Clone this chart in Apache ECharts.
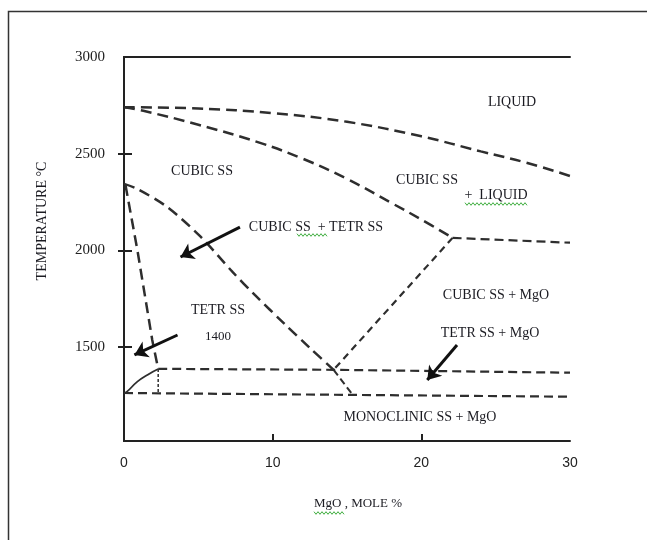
<!DOCTYPE html>
<html>
<head>
<meta charset="utf-8">
<title>ZrO2 - MgO phase diagram</title>
<script src="https://cdn.jsdelivr.net/npm/echarts@6/dist/echarts.min.js"></script>
<style>
  html, body { margin: 0; padding: 0; background: #fff; }
  #chart { width: 647px; height: 540px; }
</style>
</head>
<body>
<div id="chart"></div>
<script>
// axis tick labels
const xTickValues = [0, 10, 20, 30]
const yTickValues = [1500, 2000, 2500, 3000]
const yInnerTicks = [1500, 2000, 2500]
const xInnerTicks = [10, 20]

// phase boundaries as [MgO mole %, temperature °C]
const liquidus = [[0, 2740], [5, 2734], [10, 2710], [15, 2665], [20, 2590], [24, 2512], [27, 2455], [30, 2385]]
const solidus = [[0, 2740], [1.3, 2722], [5, 2650], [9, 2560], [12, 2475], [15, 2370], [18, 2245], [20, 2160], [22.1, 2065]]
const eutecticLine = [[22.1, 2065], [30, 2040]]
const cubicMgoSolvus = [[22.1, 2065], [14.1, 1383]]
const cubicTetrBoundary = [[0, 2344], [0.9, 2318], [2.9, 2225], [5.1, 2075], [7.3, 1889], [8.8, 1770], [10.8, 1620], [12.5, 1496], [14.1, 1383]]
const cubicTetrLower = [[14.1, 1383], [15.3, 1262]]
const tetrSolvus = [[0.1, 2338], [0.9, 2002], [1.9, 1537], [2.3, 1387]]
const tetrSolvusFoot = [[2.3, 1387], [2.3, 1262]]
const eutectoidLine = [[2.3, 1388], [14.1, 1383], [30, 1368]]
const monoclinicLine = [[0, 1263], [30, 1244]]
const monoTetrCurve = [[0, 1263], [0.2, 1270], [0.9, 1322], [1.6, 1358], [2.3, 1387]]

// arrows, [from, to]
const arrows = [
  [[7.8, 2121], [3.8, 1966]],
  [[3.6, 1563], [0.7, 1460]],
  [[22.4, 1511], [20.4, 1330]],
]

const lineColor = '#2e2e2e'
const textColor = '#1b1b22'
const serif = '"Liberation Serif", "DejaVu Serif", serif'

const boundary = (name, data, dash, width, smooth) => ({
  name,
  type: 'line',
  data,
  symbol: 'none',
  smooth,
  silent: true,
  lineStyle: { color: lineColor, width, type: dash },
  z: 3,
})

// label in plot area
const label = (text, x, y, size = 14) => ({
  type: 'text',
  x,
  y,
  style: {
    text,
    font: `${size}px ${serif}`,
    fill: textColor,
    align: 'center',
    verticalAlign: 'middle',
  },
})

// green spell-check squiggle
const squiggle = (x0, x1, y) => {
  const pts = []
  let i = 0
  for (let x = x0; x <= x1; x += 2, i++) pts.push([x, y + (i % 2 ? 1.3 : -1.3)])
  return {
    type: 'polyline',
    shape: { points: pts },
    style: { stroke: '#3fae3f', lineWidth: 1, fill: null },
  }
}

const chart = echarts.init(document.getElementById('chart'))

const option = {
  animation: false,
  backgroundColor: '#fff',
  grid: { left: 124, right: 77, top: 57, bottom: 99 },
  xAxis: [
    {
      type: 'value',
      min: 0,
      max: 30,
      position: 'bottom',
      axisLine: { show: true, lineStyle: { color: '#222', width: 2 } },
      axisTick: { show: true, inside: true, length: 7, customValues: xInnerTicks, lineStyle: { color: '#222', width: 2 } },
      axisLabel: { customValues: xTickValues, margin: 15, color: '#222', fontSize: 14, fontFamily: '"Liberation Sans", sans-serif' },
      splitLine: { show: false },
    },
    {
      type: 'value',
      min: 0,
      max: 30,
      position: 'top',
      axisLine: { show: true, lineStyle: { color: '#222', width: 2 } },
      axisTick: { show: false },
      axisLabel: { show: false },
      splitLine: { show: false },
    },
  ],
  yAxis: [
    {
      type: 'value',
      min: 1015,
      max: 3000,
      position: 'left',
      axisLine: { show: true, lineStyle: { color: '#222', width: 2 } },
      axisTick: { show: true, inside: true, length: 8, customValues: yInnerTicks, lineStyle: { color: '#222', width: 2 } },
      axisLabel: {
        customValues: yTickValues,
        formatter: v => String(v),
        margin: 19,
        color: '#222',
        fontSize: 15,
        fontFamily: serif,
      },
      splitLine: { show: false },
    },
    {
      type: 'value',
      min: 1015,
      max: 3000,
      position: 'right',
      axisLine: { show: true, lineStyle: { color: '#222', width: 2 } },
      axisTick: { show: true, inside: true, length: 6, customValues: yInnerTicks, lineStyle: { color: '#222', width: 2 } },
      axisLabel: { show: false },
      splitLine: { show: false },
    },
  ],
  series: [
    boundary('liquidus', liquidus, [11, 6], 2.5, 0.4),
    boundary('solidus', solidus, [11, 6], 2.5, 0.4),
    boundary('eutectic', eutecticLine, [9, 5], 2.2, false),
    boundary('cubic + MgO', cubicMgoSolvus, [7, 5], 2.2, false),
    boundary('cubic / tetr', cubicTetrBoundary, [11, 6], 2.5, 0.3),
    boundary('cubic / tetr lower', cubicTetrLower, [7, 4], 2, false),
    boundary('tetr solvus', tetrSolvus, [11, 6], 2.5, false),
    boundary('tetr solvus foot', tetrSolvusFoot, [3, 2], 1.5, false),
    boundary('1400 line', eutectoidLine, [9, 5], 2.2, false),
    boundary('monoclinic line', monoclinicLine, [9, 5], 2.2, false),
    boundary('mono / tetr', monoTetrCurve, 'solid', 1.8, 0.5),
    {
      type: 'lines',
      coordinateSystem: 'cartesian2d',
      silent: true,
      symbol: ['none', 'arrow'],
      symbolSize: 13,
      lineStyle: { color: '#111', width: 3, opacity: 1 },
      data: arrows.map(a => ({ coords: a })),
      z: 4,
    },
  ],
  graphic: [
    {
      type: 'rect',
      shape: { x: 8.5, y: 11.5, width: 700, height: 600 },
      style: { fill: null, stroke: '#333', lineWidth: 1.5 },
    },
    label('LIQUID', 512, 102),
    label('CUBIC SS', 202, 171),
    label('CUBIC SS', 427, 180),
    label('+  LIQUID', 496, 195),
    label('CUBIC SS  + TETR SS', 316, 227),
    label('TETR SS', 218, 310),
    label('1400', 218, 337, 13),
    label('CUBIC SS + MgO', 496, 295),
    label('TETR SS + MgO', 490, 333),
    label('MONOCLINIC SS + MgO', 420, 417),
    label('MgO , MOLE %', 358, 504, 13),
    {
      type: 'text',
      x: 42,
      y: 221,
      rotation: Math.PI / 2,
      style: {
        text: 'TEMPERATURE °C',
        font: `14px ${serif}`,
        fill: textColor,
        align: 'center',
        verticalAlign: 'middle',
      },
    },
    squiggle(465, 527, 204),
    squiggle(297, 327, 235),
    squiggle(314, 345, 513),
  ],
}

chart.setOption(option)

window.addEventListener('resize', () => chart.resize())
</script>
</body>
</html>
